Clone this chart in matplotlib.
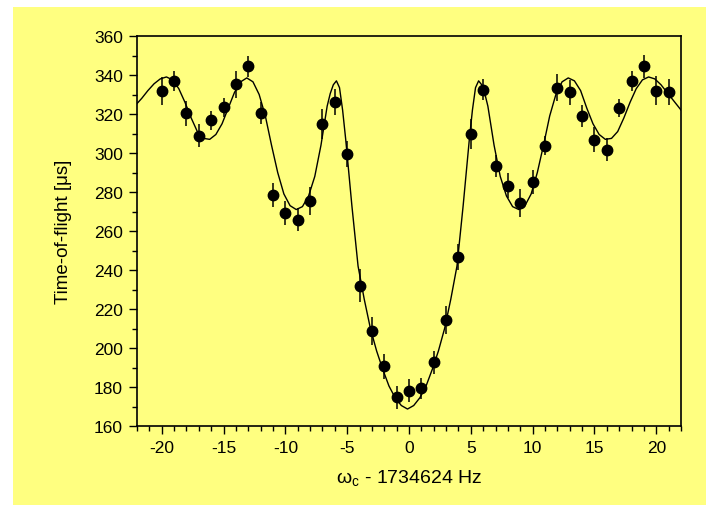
import matplotlib
matplotlib.use('Agg')
import matplotlib.pyplot as plt
from matplotlib.patches import Rectangle
from matplotlib.ticker import MultipleLocator

plt.rcParams['font.family'] = ['Liberation Sans', 'DejaVu Sans']
plt.rcParams['axes.unicode_minus'] = False

# measured points
freq = list(range(-20, 22))
tof = [331.6, 336.9, 320.5, 308.9, 316.8, 323.4, 335.2, 344.4, 320.5, 278.5,
       269.2, 265.8, 275.4, 314.7, 326.3, 299.3, 232.0, 208.7, 190.6, 174.7,
       178.1, 179.3, 192.7, 214.5, 246.7, 309.6, 332.5, 293.2, 283.2, 274.4,
       285.3, 303.8, 333.5, 331.1, 318.8, 306.8, 301.7, 323.1, 336.9, 344.4,
       332.0, 331.1]
tof_err = [7.2, 5.1, 6.4, 6.0, 4.8, 4.8, 6.8, 5.5, 5.5, 6.3,
           6.2, 5.8, 7.0, 7.7, 6.7, 6.7, 8.5, 7.2, 6.5, 5.8,
           6.0, 5.3, 6.0, 7.2, 6.7, 7.7, 5.3, 5.6, 6.3, 7.0,
           6.2, 4.9, 7.0, 6.5, 5.6, 6.3, 6.0, 4.8, 5.0, 6.0,
           7.3, 6.7]

# fitted line
fit_x = [-22.62, -22.12, -21.62, -21.12, -20.62, -20.12, -19.62, -19.12, -18.62, -18.12,
         -17.62, -17.12, -16.62, -16.12, -15.62, -15.12, -14.62, -14.12, -13.62, -13.12,
         -12.62, -12.12, -11.62, -11.12, -10.62, -10.12, -9.62, -9.12, -8.62, -8.12,
         -7.62, -7.12, -6.62, -6.37, -6.12, -5.87, -5.62, -5.37, -5.12, -4.62, -4.12, -3.62,
         -3.12, -2.62, -2.12, -1.62, -1.12, -0.62, -0.12, 0.38, 0.88, 1.38,
         1.88, 2.38, 2.88, 3.38, 3.88, 4.38, 4.88, 5.13, 5.38, 5.63, 5.88, 6.13,
         6.38, 6.88, 7.38, 7.88, 8.38, 8.88, 9.38, 9.88, 10.38, 10.88,
         11.38, 11.88, 12.38, 12.88, 13.38, 13.88, 14.38, 14.88, 15.38, 15.88,
         16.38, 16.88, 17.38, 17.88, 18.38, 18.88, 19.38, 19.88, 20.38, 20.88,
         21.38, 21.88, 22.38]
fit_t = [321, 324.5, 328, 332, 335.5, 338, 339, 337.5, 333, 326,
         318, 311, 307.5, 307, 309.5, 315, 323, 331, 336.5, 338.5,
         336.5, 330, 319, 304, 290, 279, 273, 271, 272.5, 278,
         288, 304, 324, 330.5, 335, 337, 333.5, 322, 307, 273, 242, 225,
         210, 198.5, 189, 180.5, 174.5, 170.5, 168.7, 170.5, 174.5, 180.5,
         189, 198.5, 210, 225, 242, 273, 307, 322, 333.5, 337, 335, 330.5,
         324, 304, 288, 278, 272.5, 271, 273, 279, 290, 304,
         319, 330, 336.5, 338.5, 337, 332, 323, 315, 309.5, 307,
         307.5, 311, 318, 326, 333, 337.5, 339, 338, 335, 331,
         327, 323, 319]

fig = plt.figure(figsize=(7.06, 5.06), dpi=100, facecolor='white')
bg = Rectangle((13/706, 0), 693/706, 498/506, transform=fig.transFigure,
               facecolor='#FFFF80', edgecolor='none', zorder=-10)
fig.patches.append(bg)
ax = fig.add_axes([137/706, 1-427/506, 544/706, 390/506])
ax.set_zorder(1)
ax.set_facecolor('#FFFF80')

ax.plot(fit_x, fit_t, color='black', lw=1.0, zorder=2)
ax.errorbar(freq, tof, yerr=tof_err, fmt='o', color='black', ms=7.5,
            elinewidth=1.1, capsize=0, zorder=3)

ax.set_xlim(-22, 22)
ax.set_ylim(160, 360)
ax.xaxis.set_major_locator(MultipleLocator(5))
ax.xaxis.set_minor_locator(MultipleLocator(1))
ax.yaxis.set_major_locator(MultipleLocator(20))
ax.yaxis.set_minor_locator(MultipleLocator(10))
ax.tick_params(which='major', direction='out', length=6, width=1, labelsize=12.5, pad=4)
ax.tick_params(which='minor', direction='out', length=3.5, width=1)
for s in ax.spines.values():
    s.set_linewidth(1.2)

ax.set_xlabel(r'$\mathregular{\omega_c}$ - 1734624 Hz', fontsize=14, labelpad=9)
ax.set_ylabel('Time-of-flight [μs]', fontsize=13.5, labelpad=16)

fig.savefig('out.png', dpi=100, facecolor=fig.get_facecolor())
